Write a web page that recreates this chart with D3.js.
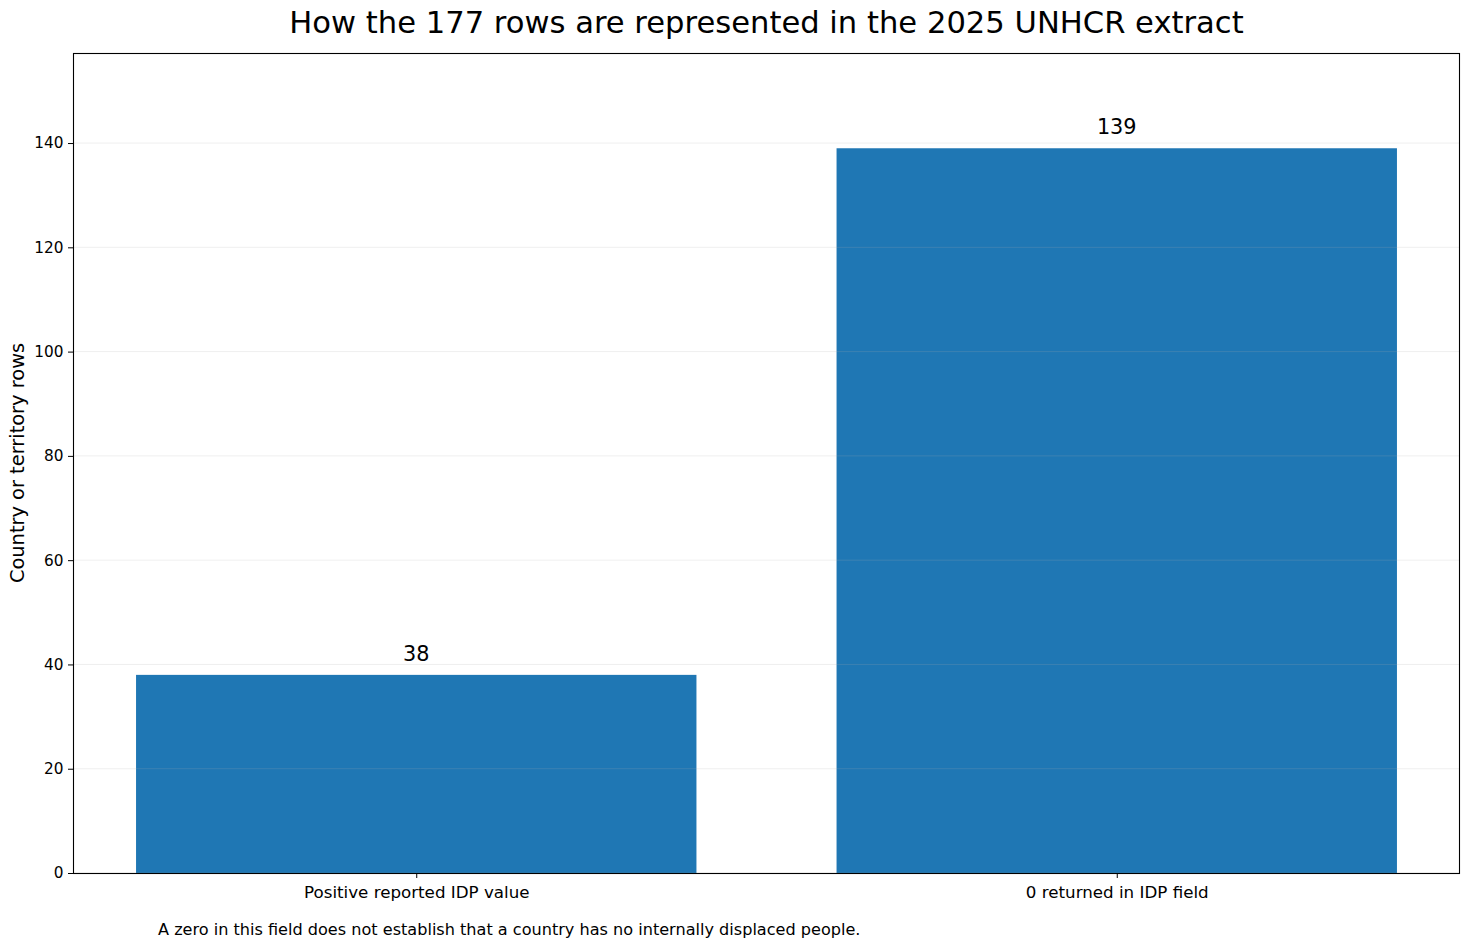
<!DOCTYPE html>
<html><head><meta charset="utf-8">
<script src="https://cdn.jsdelivr.net/npm/d3@7"></script>
<style>
html,body{margin:0;padding:0;background:#fff;}
text{font-family:"DejaVu Sans",sans-serif;fill:#000;}
</style></head>
<body>
<svg id="chart" width="1470" height="948"></svg>
<script>
const categories = ["Positive reported IDP value", "0 returned in IDP field"];
const rowCounts = [38, 139];
const yTicks = [0, 20, 40, 60, 80, 100, 120, 140];
const titleText = "How the 177 rows are represented in the 2025 UNHCR extract";
const yLabelText = "Country or territory rows";
const noteText = "A zero in this field does not establish that a country has no internally displaced people.";

const svg = d3.select("#chart");
const L = 73, R = 1460, T = 53, B = 873;

const x = d3.scaleLinear().domain([-0.49, 1.49]).range([L, R]);
const y = d3.scaleLinear().domain([0, 157.27]).range([B, T]);
const barW = 0.8;

// bars
svg.append("g").selectAll("rect").data(rowCounts).join("rect")
  .attr("x", (d,i) => x(i - barW/2))
  .attr("width", (d,i) => x(i + barW/2) - x(i - barW/2))
  .attr("y", d => y(d))
  .attr("height", d => y(0) - y(d))
  .attr("fill", "#1f77b4");

// grid on top
svg.append("g").selectAll("line").data(yTicks).join("line")
  .attr("x1", L).attr("x2", R)
  .attr("y1", d => y(d)).attr("y2", d => y(d))
  .attr("stroke", "#b0b0b0").attr("stroke-opacity", 0.25).attr("stroke-width", 0.8);

// frame
svg.append("rect").attr("x", L + 0.5).attr("y", T + 0.5).attr("width", R-L-1).attr("height", B-T)
  .attr("fill", "none").attr("stroke", "#000").attr("stroke-width", 1.1);

// y axis
const yAxis = d3.axisLeft(y).tickValues(yTicks).tickSize(5).tickPadding(4.5).tickFormat(d3.format("d"));
const ga = svg.append("g").attr("transform", `translate(${L},0)`).call(yAxis);
ga.select(".domain").remove();
ga.selectAll("text").style("font-size", "15.3px").style("font-family", "DejaVu Sans");
ga.selectAll("line").attr("stroke", "#000");

// x axis
const xAxis = d3.axisBottom(x).tickValues(categories.map((c,i)=>i)).tickSize(5).tickPadding(8)
  .tickFormat(i => categories[i]);
const gx = svg.append("g").attr("transform", `translate(0,${B})`).call(xAxis);
gx.select(".domain").remove();
gx.selectAll("text").style("font-size", "16.7px").style("font-family", "DejaVu Sans");
gx.selectAll("line").attr("stroke", "#000");

// value labels
svg.append("g").selectAll("text").data(rowCounts).join("text")
  .attr("x", (d,i) => x(i)).attr("y", d => y(d) - 14)
  .attr("text-anchor", "middle").style("font-size", "20.8px")
  .text(d => d);

// title
svg.append("text").attr("x", (L+R)/2).attr("y", 33).attr("text-anchor", "middle")
  .style("font-size", "30.6px").text(titleText);

// y label
svg.append("text").attr("transform", `translate(24,${(T+B)/2}) rotate(-90)`)
  .attr("text-anchor", "middle").style("font-size", "19.4px").text(yLabelText);

// note
svg.append("text").attr("x", 158).attr("y", 935).style("font-size", "16.1px").text(noteText);
</script>
</body></html>
